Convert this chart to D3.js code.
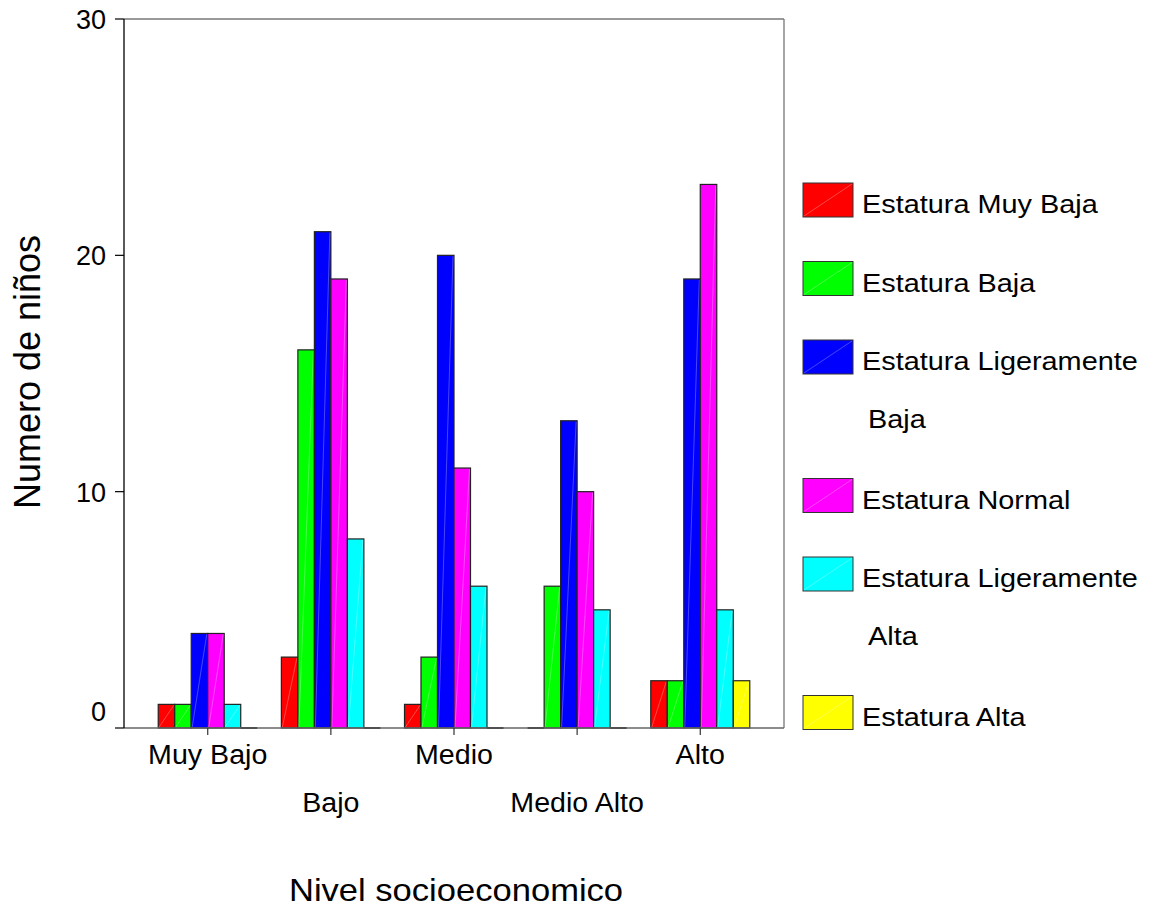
<!DOCTYPE html>
<html><head><meta charset="utf-8">
<script src="https://cdnjs.cloudflare.com/ajax/libs/d3/7.8.5/d3.min.js"></script>
<style>body{margin:0;background:#fff}svg{font-family:"Liberation Sans",Arial,sans-serif}</style>
</head><body>
<svg id="c" width="1154" height="911"></svg>
<script>
const categories = ["Muy Bajo","Bajo","Medio","Medio Alto","Alto"];
const seriesNames = ["Estatura Muy Baja","Estatura Baja","Estatura Ligeramente Baja","Estatura Normal","Estatura Ligeramente Alta","Estatura Alta"];
const seriesColors = ["#ff0000","#00ff00","#0000ff","#ff00ff","#00ffff","#ffff00"];
const muyBaja = [1,3,1,0,2];
const baja = [1,16,3,6,2];
const ligBaja = [4,21,20,13,19];
const normal = [4,19,11,10,23];
const ligAlta = [1,8,6,5,5];
const alta = [0,0,0,0,2];
const yTicks = [0,10,20,30];
const seriesValues = [muyBaja,baja,ligBaja,normal,ligAlta,alta];

const svg = d3.select("#c");
const L=124,R=784,T=19,B=728;
const x = d3.scaleBand().domain(categories).range([L,R]).paddingOuter(0.18).paddingInner(0);
const y = d3.scaleLinear().domain([0,30]).range([B,T]);
const barW = 16.5;
const xs = d3.scaleBand().domain(d3.range(6)).range([-3*barW,3*barW]);

function stretchedText(sel, px, py, sx, size, txt, anchor){
  return sel.append("text").attr("transform",`translate(${px},${py}) scale(${sx},1)`)
    .attr("text-anchor",anchor||"start").attr("font-size",size).text(txt);
}

// frame
svg.append("line").attr("x1",L).attr("x2",R).attr("y1",T).attr("y2",T).attr("stroke","#777").attr("stroke-width",1.3);
svg.append("line").attr("x1",R).attr("x2",R).attr("y1",T).attr("y2",B).attr("stroke","#777").attr("stroke-width",1.3);

// bars
const g = svg.append("g");
categories.forEach((c,ci)=>{
  const cx = x(c)+x.bandwidth()/2;
  seriesValues.forEach((vals,si)=>{
    const v = vals[ci];
    const x0 = cx+xs(si), w = xs.bandwidth();
    const y0 = y(v);
    if (v>0){
      g.append("rect").attr("x",x0).attr("y",y0).attr("width",w).attr("height",B-y0)
        .attr("fill",seriesColors[si]).attr("stroke","#222").attr("stroke-width",1.2);
      g.append("line").attr("x1",x0+1).attr("y1",B-1).attr("x2",x0+w-1).attr("y2",y0+1)
        .attr("stroke","#fff").attr("stroke-opacity",0.35).attr("stroke-width",0.8);
    } else {
      g.append("line").attr("x1",x0).attr("x2",x0+w).attr("y1",B).attr("y2",B).attr("stroke","#111").attr("stroke-width",2);
    }
  });
});

// x axis
svg.append("line").attr("x1",L).attr("x2",R).attr("y1",B).attr("y2",B).attr("stroke","#666").attr("stroke-width",1.3);
categories.forEach((c,ci)=>{
  const cx = x(c)+x.bandwidth()/2;
  svg.append("line").attr("x1",cx).attr("x2",cx).attr("y1",B).attr("y2",B+7).attr("stroke","#333").attr("stroke-width",1.2);
  stretchedText(svg, cx, ci%2===0?764:812, 1.06, 27, c, "middle");
});

// y axis
svg.append("line").attr("x1",L).attr("x2",L).attr("y1",T).attr("y2",B).attr("stroke","#000").attr("stroke-width",1.3);
yTicks.forEach(t=>{
  svg.append("line").attr("x1",L-9).attr("x2",L).attr("y1",y(t)).attr("y2",y(t)).attr("stroke","#000").attr("stroke-width",1.2);
  svg.append("text").attr("x",106).attr("y",t===0?y(t)-7:y(t)+10).attr("text-anchor","end").attr("font-size",27).text(t);
});

// titles
svg.append("text").attr("transform","translate(40,372) rotate(-90)").attr("text-anchor","middle").attr("font-size",36).text("Numero de niños");
stretchedText(svg, 456, 901, 1.08, 32, "Nivel socioeconomico", "middle");

// legend
const legendLines = [["Estatura Muy Baja"],["Estatura Baja"],["Estatura Ligeramente","Baja"],["Estatura Normal"],["Estatura Ligeramente","Alta"],["Estatura Alta"]];
let ly = 200;
legendLines.forEach((lines,i)=>{
  const sy = ly-17;
  svg.append("rect").attr("x",803).attr("y",sy).attr("width",50).attr("height",34)
    .attr("fill",seriesColors[i]).attr("stroke","#333").attr("stroke-width",1);
  svg.append("line").attr("x1",804).attr("y1",sy+33).attr("x2",852).attr("y2",sy+1).attr("stroke","#fff").attr("stroke-opacity",0.35).attr("stroke-width",0.8);
  stretchedText(svg, 862, ly+13, 1.11, 26, lines[0]);
  if (lines[1]) {
    stretchedText(svg, 868, ly+71, 1.11, 26, lines[1]);
    ly += 138.5;
  } else ly += 78.5;
});
</script>
</body></html>
